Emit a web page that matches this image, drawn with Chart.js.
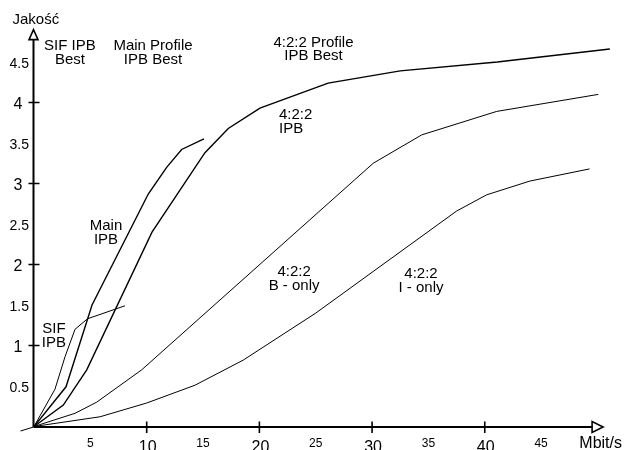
<!DOCTYPE html>
<html>
<head>
<meta charset="utf-8">
<script src="https://cdn.jsdelivr.net/npm/chart.js@4.4.1/dist/chart.umd.min.js"></script>
<style>
  html, body { margin: 0; padding: 0; background: #fff; }
  #wrap { width: 624px; height: 450px; }
</style>
</head>
<body>
<div id="wrap"><canvas id="myChart" width="624" height="450"></canvas></div>
<script>
//curve values (x = Mbit/s, y = quality)
const sifX = [0, 1.86, 2.75, 3.64, 4.75, 8.07];
const sifY = [0, 0.46, 0.86, 1.2, 1.33, 1.49];

const mainX = [0, 2.84, 5.15, 10.14, 11.77, 13.1, 15.08];
const mainY = [0, 0.49, 1.5, 2.87, 3.2, 3.42, 3.55];

const ipb422X = [0, 2.6, 4.68, 10.47, 15.17, 17.24, 20.05, 26.1, 32.5, 41.1, 51.1];
const ipb422Y = [0, 0.265, 0.7, 2.4, 3.38, 3.68, 3.93, 4.24, 4.39, 4.5, 4.66];

const bOnlyX = [0, 3.64, 5.56, 9.56, 30.1, 34.4, 41.06, 50.07];
const bOnlyY = [0, 0.163, 0.3, 0.7, 3.25, 3.6, 3.89, 4.1];

const iOnlyX = [0, 5.86, 10.0, 14.29, 18.57, 25.0, 37.5, 40.17, 44.0, 49.3];
const iOnlyY = [0, 0.12, 0.29, 0.51, 0.82, 1.4, 2.66, 2.86, 3.03, 3.18];

//tick labels
const xMajorTicks = [10, 20, 30, 40];
const xMinorTicks = [5, 15, 25, 35, 45];
const yMajorTicks = [1, 2, 3, 4];
const yMinorTicks = [0.5, 1.5, 2.5, 3.5, 4.5];

//axis titles
const xTitle = "Mbit/s";
const yTitle = "Jakość";

//curve notes: text lines, anchor point in data units
const noteText = [
  ["SIF IPB", "Best"],
  ["Main Profile", "IPB Best"],
  ["4:2:2 Profile", "IPB Best"],
  ["4:2:2", "IPB"],
  ["Main", "IPB"],
  ["SIF", "IPB"],
  ["4:2:2", "B - only"],
  ["4:2:2", "I - only"]
];
const noteX = [3.19, 10.56, 24.8, 21.74, 6.39, 1.77, 23.08, 34.34];
const noteY = [4.648, 4.648, 4.689, 3.796, 2.426, 1.158, 1.858, 1.83];
const noteAlign = ["center", "center", "center", "left", "center", "center", "center", "center"];

const FONT = '"Liberation Sans", Arial, sans-serif';

function pts(xs, ys) {
  return xs.map((x, i) => ({ x: x, y: ys[i] }));
}

function curve(xs, ys, width) {
  return {
    data: pts(xs, ys),
    borderColor: "#000",
    borderWidth: width,
    pointRadius: 0,
    tension: 0,
    fill: false
  };
}

//draws the arrow axes, ticks, labels and the notes
const axesPlugin = {
  id: "arrowAxes",
  afterDatasetsDraw(chart) {
    const ctx = chart.ctx;
    const xs = chart.scales.x;
    const ys = chart.scales.y;
    const x0 = xs.getPixelForValue(0) - 0.5;
    const y0 = ys.getPixelForValue(0) + 0.5;
    const xEnd = xs.getPixelForValue(50.5);
    const yEnd = ys.getPixelForValue(4.9);

    ctx.save();
    ctx.strokeStyle = "#000";
    ctx.fillStyle = "#000";
    ctx.lineWidth = 2;

    ctx.beginPath();
    ctx.moveTo(x0, y0);
    ctx.lineTo(x0, yEnd + 10);
    ctx.moveTo(x0, y0);
    ctx.lineTo(xEnd - 10, y0);
    ctx.stroke();

    //small stub under the origin
    ctx.lineWidth = 1;
    ctx.beginPath();
    ctx.moveTo(x0 - 13, y0 + 4);
    ctx.lineTo(x0, y0);
    ctx.stroke();

    //open arrow heads
    ctx.lineWidth = 1.6;
    ctx.fillStyle = "#fff";
    ctx.beginPath();
    ctx.moveTo(x0, yEnd);
    ctx.lineTo(x0 - 4.5, yEnd + 10);
    ctx.lineTo(x0 + 4.5, yEnd + 10);
    ctx.closePath();
    ctx.fill();
    ctx.stroke();
    ctx.beginPath();
    ctx.moveTo(xEnd, y0);
    ctx.lineTo(xEnd - 11, y0 - 5.5);
    ctx.lineTo(xEnd - 11, y0 + 5.5);
    ctx.closePath();
    ctx.fill();
    ctx.stroke();

    //tick marks
    ctx.lineWidth = 1.6;
    ctx.beginPath();
    yMajorTicks.forEach((v) => {
      const y = ys.getPixelForValue(v);
      ctx.moveTo(x0 - 5, y);
      ctx.lineTo(x0 + 6, y);
    });
    xMajorTicks.forEach((v) => {
      const x = xs.getPixelForValue(v);
      ctx.moveTo(x, y0 - 5.5);
      ctx.lineTo(x, y0 + 6);
    });
    ctx.stroke();

    ctx.fillStyle = "#000";
    //y labels
    ctx.textAlign = "right";
    ctx.textBaseline = "middle";
    ctx.font = "16px " + FONT;
    yMajorTicks.forEach((v) => {
      ctx.fillText(String(v), x0 - 11, ys.getPixelForValue(v) + 2);
    });
    ctx.font = "14px " + FONT;
    yMinorTicks.forEach((v) => {
      ctx.fillText(v.toFixed(1), x0 - 4.5, ys.getPixelForValue(v) + 2.5);
    });

    //x labels
    ctx.textAlign = "center";
    ctx.textBaseline = "alphabetic";
    ctx.font = "16px " + FONT;
    xMajorTicks.forEach((v) => {
      ctx.fillText(String(v), xs.getPixelForValue(v) + 1, y0 + 24.5);
    });
    ctx.font = "12px " + FONT;
    xMinorTicks.forEach((v) => {
      ctx.fillText(String(v), xs.getPixelForValue(v), y0 + 19.5);
    });

    //axis titles
    ctx.font = "15px " + FONT;
    ctx.textAlign = "left";
    ctx.fillText(yTitle, x0 - 21, yEnd - 5.5);
    ctx.font = "16px " + FONT;
    ctx.textAlign = "right";
    ctx.fillText(xTitle, chart.width - 2, y0 + 21);

    //curve notes
    ctx.font = "15px " + FONT;
    noteText.forEach((lines, i) => {
      ctx.textAlign = noteAlign[i];
      const px = xs.getPixelForValue(noteX[i]);
      const py = ys.getPixelForValue(noteY[i]);
      lines.forEach((t, j) => {
        ctx.fillText(t, px, py + j * 13.8);
      });
    });
    ctx.restore();
  }
};

var ctx = document.getElementById("myChart").getContext("2d");

var myChart = new Chart(ctx, {
  type: "line",
  data: {
    datasets: [
      curve(sifX, sifY, 1),
      curve(mainX, mainY, 1.4),
      curve(ipb422X, ipb422Y, 1.4),
      curve(bOnlyX, bOnlyY, 1),
      curve(iOnlyX, iOnlyY, 1)
    ]
  },
  options: {
    responsive: false,
    animation: false,
    layout: {
      padding: { left: 34, right: 4, top: 21.5, bottom: 23.5 }
    },
    plugins: {
      legend: { display: false },
      tooltip: { enabled: false }
    },
    scales: {
      x: { type: "linear", min: 0, max: 52, display: false },
      y: { type: "linear", min: 0, max: 5, display: false }
    }
  },
  plugins: [axesPlugin]
});
</script>
</body>
</html>
